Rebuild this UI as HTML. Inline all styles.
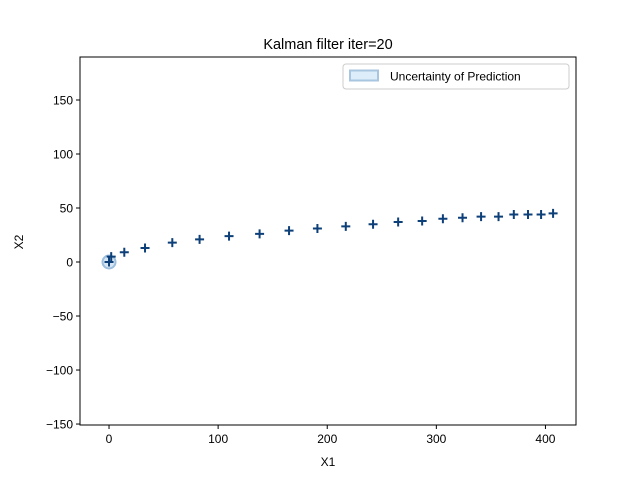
<!DOCTYPE html>
<html><head><meta charset="utf-8"><style>
body{margin:0;background:#fff}
svg{font-family:"Liberation Sans","DejaVu Sans",sans-serif}
</style></head><body>
<svg id="chart" width="640" height="478" viewBox="0 0 640 478">
<rect width="640" height="478" fill="#fff"/>
<text x="328" y="49" text-anchor="middle" font-size="14.5">Kalman filter iter=20</text>
<g id="marks"></g>
<rect x="80" y="57" width="496" height="368" fill="none" stroke="#000" stroke-width="1"/>
<g id="axes"></g>
<text x="328" y="466" text-anchor="middle" font-size="12">X1</text>
<text x="0" y="0" transform="translate(23,242) rotate(-90)" text-anchor="middle" font-size="12">X2</text>
<g>
<rect x="343" y="64" width="226" height="25" rx="3" fill="#fff" stroke="#ccc"/>
<rect x="350" y="70.5" width="28" height="10" fill="#ddeefa" stroke="#a9c6e0" stroke-width="2"/>
<text x="390" y="80.5" font-size="12">Uncertainty of Prediction</text>
</g>
</svg>
<script>
const xVals=[0,2,14,33,58,83,110,138,165,191,217,242,265,287,306,324,341,357,371,384,396,407];
const yVals=[0,5,9,13,18,21,24,26,29,31,33,35,37,38,40,41,42,42,44,44,44,45];
const xTicks=[0,100,200,300,400];
const yTicks=[-150,-100,-50,0,50,100,150];
const ellipseCenter=[0,0];
const NS="http://www.w3.org/2000/svg";
const X0=80,X1=576,Y0=425,Y1=57,xmin=-26.6,xmax=428,ymin=-150.9,ymax=189.8;
function sx(v){return X0+(v-xmin)/(xmax-xmin)*(X1-X0);}
function sy(v){return Y0-(v-ymin)/(ymax-ymin)*(Y0-Y1);}
function mk(t,a,p){const e=document.createElementNS(NS,t);for(const k in a)e.setAttribute(k,a[k]);p.appendChild(e);return e;}
const marks=document.getElementById('marks'),axes=document.getElementById('axes');
const el=mk('circle',{cx:sx(ellipseCenter[0]),cy:sy(ellipseCenter[1]),r:6.5,fill:'#d6e6f4',stroke:'#9dbedc','stroke-width':2},marks);


xVals.forEach((xv,i)=>{
 const cx=sx(xv),cy=sy(yVals[i]);
 const p=mk('path',{d:`M${cx-4.5},${cy}H${cx+4.5}M${cx},${cy-4.5}V${cy+4.5}`,stroke:'#0d3f78','stroke-width':2},marks);
 
 
});
xTicks.forEach(t=>{
 const x=sx(t);
 mk('line',{x1:x,x2:x,y1:Y0,y2:Y0+4,stroke:'#000'},axes);
 const tx=mk('text',{x:x,y:Y0+18,'text-anchor':'middle','font-size':12},axes);
 tx.textContent=t;
 
 
});
yTicks.forEach(t=>{
 const y=sy(t);
 mk('line',{x1:X0-4,x2:X0,y1:y,y2:y,stroke:'#000'},axes);
 const tx=mk('text',{x:X0-7,y:y+4.5,'text-anchor':'end','font-size':12},axes);
 tx.textContent=t<0?'\u2212'+Math.abs(t):t;
 
 
});
</script>
</body></html>
